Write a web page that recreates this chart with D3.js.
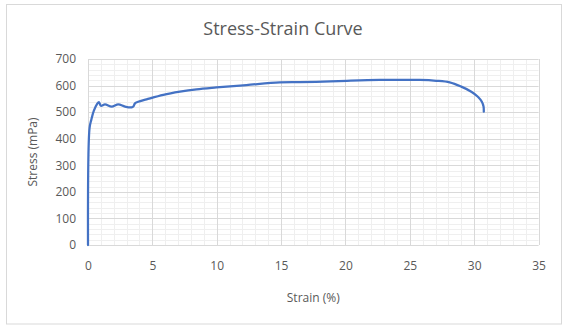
<!DOCTYPE html>
<html>
<head>
<meta charset="utf-8">
<script src="https://cdn.jsdelivr.net/npm/d3@7"></script>
<style>
  html, body { margin: 0; padding: 0; background: #fff; }
  svg { display: block; }
  text { font-family: "Open Sans", "Liberation Sans", sans-serif; fill: #595959; }
</style>
</head>
<body>
<svg id="chart" width="566" height="330"></svg>
<script>
// Tensile test readings: strain in percent, stress in mPa
const strain = [0, 0.12, 0.25, 0.45, 0.7, 0.85, 1.0, 1.32, 1.84, 2.35, 2.87, 3.39, 3.52, 3.65, 3.9, 4.55, 5.85, 7.14, 8.43, 9.98, 12.3, 14.9, 16.45, 18.26, 20.1, 22.66, 25.76, 27.06, 28.1, 29.0, 29.78, 30.29, 30.6, 30.73, 30.75];
const stress = [0, 440, 470, 505, 530, 538, 524, 529, 521, 529, 521, 518, 521, 533, 539, 548, 565, 577, 586, 593, 602, 612, 613, 615, 618, 621, 621, 618, 612, 596, 577, 558, 539, 521, 502];

const xTicks = [0, 5, 10, 15, 20, 25, 30, 35];
const yTicks = [0, 100, 200, 300, 400, 500, 600, 700];
const xMinor = d3.range(0, 36, 1);
const yMinor = d3.range(0, 701, 20);

const svg = d3.select("#chart");
const plot = { left: 88, right: 538.5, top: 59, bottom: 245 };

// chart frame
svg.append("rect")
  .attr("x", 6.5).attr("y", 4.5)
  .attr("width", 555).attr("height", 319.5)
  .attr("fill", "#fff").attr("stroke", "#d9d9d9").attr("stroke-width", 1);

const x = d3.scaleLinear().domain([0, 35]).range([plot.left, plot.right]);
const y = d3.scaleLinear().domain([0, 700]).range([plot.bottom, plot.top]);

const grid = svg.append("g");
// minor gridlines
grid.selectAll("line.vminor").data(xMinor).join("line")
  .attr("x1", d => Math.round(x(d)) + 0.5).attr("x2", d => Math.round(x(d)) + 0.5)
  .attr("y1", plot.top).attr("y2", plot.bottom)
  .attr("stroke", "#efefef").attr("stroke-width", 1);
grid.selectAll("line.hminor").data(yMinor).join("line")
  .attr("y1", d => Math.round(y(d)) + 0.5).attr("y2", d => Math.round(y(d)) + 0.5)
  .attr("x1", plot.left).attr("x2", plot.right)
  .attr("stroke", "#efefef").attr("stroke-width", 1);
// major gridlines
grid.selectAll("line.vmajor").data(xTicks).join("line")
  .attr("x1", d => Math.round(x(d)) + 0.5).attr("x2", d => Math.round(x(d)) + 0.5)
  .attr("y1", plot.top).attr("y2", plot.bottom)
  .attr("stroke", "#d9d9d9").attr("stroke-width", 1);
grid.selectAll("line.hmajor").data(yTicks).join("line")
  .attr("y1", d => Math.round(y(d)) + 0.5).attr("y2", d => Math.round(y(d)) + 0.5)
  .attr("x1", plot.left).attr("x2", plot.right)
  .attr("stroke", "#d9d9d9").attr("stroke-width", 1);

// axes (labels only, lines drawn by the grid)
const xAxis = d3.axisBottom(x).tickValues(xTicks).tickSize(0).tickPadding(16);
svg.append("g").attr("transform", `translate(0,${plot.bottom})`).call(xAxis)
  .call(g => g.select(".domain").remove())
  .selectAll("text").style("font-size", "12px").attr("fill", "#595959")
  .attr("font-family", "Open Sans, Liberation Sans, sans-serif");

const yAxis = d3.axisLeft(y).tickValues(yTicks).tickSize(0).tickPadding(12);
svg.append("g").attr("transform", `translate(${plot.left},0)`).call(yAxis)
  .call(g => g.select(".domain").remove())
  .selectAll("text").style("font-size", "12px").attr("fill", "#595959")
  .attr("font-family", "Open Sans, Liberation Sans, sans-serif");

// data line
const pts = strain.map((s, i) => [s, stress[i]]);
const line = d3.line().x(d => x(d[0])).y(d => y(d[1])).curve(d3.curveCatmullRom.alpha(0.5));
svg.append("path").datum(pts)
  .attr("d", line).attr("fill", "none")
  .attr("stroke", "#4472C4").attr("stroke-width", 2.25)
  .attr("stroke-linejoin", "round").attr("stroke-linecap", "round");

// titles
svg.append("text").attr("x", 283).attr("y", 35).attr("text-anchor", "middle")
  .style("font-size", "18px").text("Stress-Strain Curve");
svg.append("text").attr("x", (plot.left + plot.right) / 2).attr("y", 302).attr("text-anchor", "middle")
  .style("font-size", "12px").text("Strain (%)");
svg.append("text").attr("transform", `translate(37,${(plot.top + plot.bottom) / 2}) rotate(-90)`)
  .attr("text-anchor", "middle").style("font-size", "12px").text("Stress (mPa)");
</script>
</body>
</html>
